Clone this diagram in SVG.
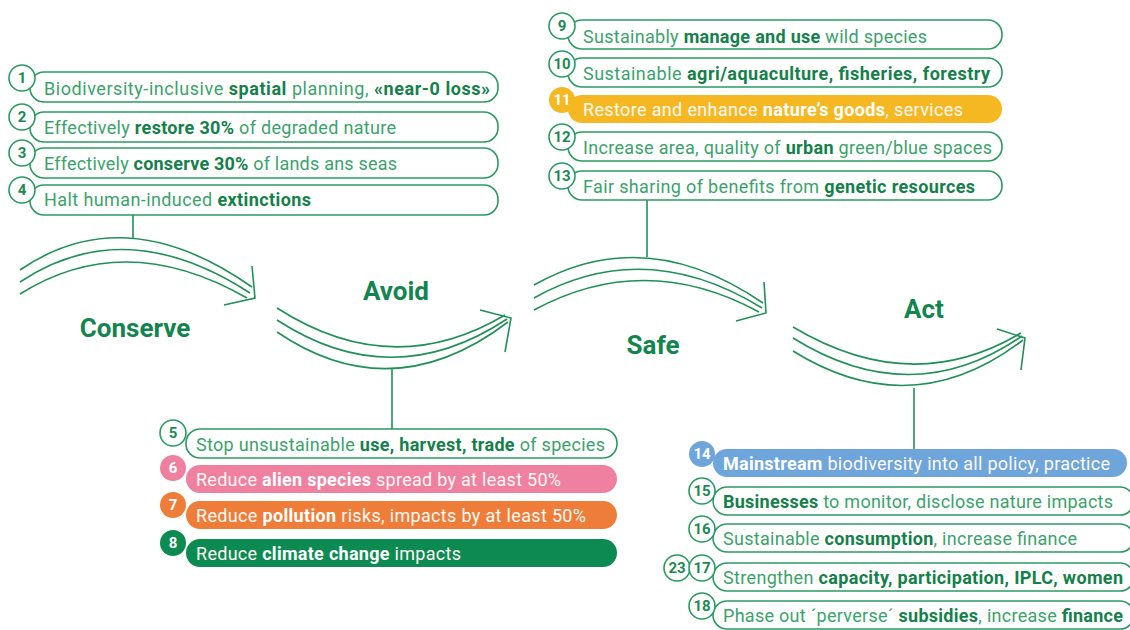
<svg xmlns="http://www.w3.org/2000/svg" width="1130" height="630" viewBox="0 0 1130 630">
<style>
.bg{fill:#ffffff}
.box{fill:#fff;stroke:#2a9a62;stroke-width:1.6}
.nc{fill:#fff;stroke:#2a9a62;stroke-width:1.6}
.nt{font-family:Roboto,"Liberation Sans",sans-serif;font-weight:bold;font-size:15px;fill:#1c8a52;text-anchor:middle}
.nw{fill:#fff}
.t{font-family:Roboto,"Liberation Sans",sans-serif;font-size:18px;fill:#3aa36b}
.b{font-weight:bold;fill:#14804a}
.w{fill:#fff8f4}
.w .b{fill:#ffffff}
.arc{fill:none;stroke:#1f9058;stroke-width:1.6}
.con{fill:none;stroke:#1f9058;stroke-width:1.6}
.stage{font-family:Roboto,"Liberation Sans",sans-serif;font-weight:bold;font-size:26px;fill:#12854e;text-anchor:middle}
.pink{fill:#ef80a0}
.orange{fill:#ee7d39}
.dgreen{fill:#0b8a52}
.yellow{fill:#f6b822}
.blue{fill:#6ea6dc}
</style>
<rect class="bg" x="0" y="0" width="1130" height="630"/>

<g id="connectors">
<path class="con" d="M133,215 L133,238"/>
<path class="con" d="M392,368 L392,429"/>
<path class="con" d="M647,200 L647,257"/>
<path class="con" d="M914,388 L914,449"/>
</g>

<g id="stage-conserve">
<path class="arc" d="M20,270 Q125,198 252,287"/>
<path class="arc" d="M20,282 Q125,212 250,293"/>
<path class="arc" d="M20,294 Q125,228 247,298"/>
<path class="arc" d="M252,266 L255,298 L224,305"/>
<text class="stage" x="135" y="337">Conserve</text>
</g>
<g id="stage-avoid">
<path class="arc" d="M277,308 Q392,382 505,315"/>
<path class="arc" d="M277,320 Q392,395 507,319"/>
<path class="arc" d="M277,332 Q392,410 508,322"/>
<path class="arc" d="M480,310 L511,318 L505,352"/>
<text class="stage" x="396" y="300">Avoid</text>
</g>
<g id="stage-safe">
<path class="arc" d="M534,285 Q645,222 763,303"/>
<path class="arc" d="M534,298 Q645,236 762,308"/>
<path class="arc" d="M534,310 Q645,250 759,312"/>
<path class="arc" d="M764,282 L766,313 L736,321"/>
<text class="stage" x="653" y="354">Safe</text>
</g>
<g id="stage-act">
<path class="arc" d="M793,327 Q912,398 1021,333"/>
<path class="arc" d="M793,338 Q912,412 1022,336"/>
<path class="arc" d="M793,351 Q912,425 1023,340"/>
<path class="arc" d="M997,329 L1025,338 L1021,370"/>
<text class="stage" x="924" y="318">Act</text>
</g>

<!-- Conserve targets -->
<g id="t1"><rect class="box" x="30" y="72" width="468" height="30" rx="14"/><circle class="nc" cx="22" cy="78" r="13"/><text class="nt" x="22" y="83">1</text>
<text class="t" x="44" y="95" textLength="446">Biodiversity-inclusive <tspan class="b">spatial</tspan> planning, <tspan class="b">«near-0 loss»</tspan></text></g>
<g id="t2"><rect class="box" x="30" y="112" width="468" height="30" rx="14"/><circle class="nc" cx="22" cy="117" r="13"/><text class="nt" x="22" y="122">2</text>
<text class="t" x="44" y="134" textLength="352">Effectively <tspan class="b">restore 30%</tspan> of degraded nature</text></g>
<g id="t3"><rect class="box" x="30" y="148" width="468" height="30" rx="14"/><circle class="nc" cx="22" cy="153" r="13"/><text class="nt" x="22" y="158">3</text>
<text class="t" x="44" y="170" textLength="353">Effectively <tspan class="b">conserve 30%</tspan> of lands ans seas</text></g>
<g id="t4"><rect class="box" x="30" y="185" width="468" height="30" rx="14"/><circle class="nc" cx="22" cy="190" r="13"/><text class="nt" x="22" y="195">4</text>
<text class="t" x="44" y="206" textLength="267">Halt human-induced <tspan class="b">extinctions</tspan></text></g>

<!-- Avoid targets -->
<g id="t5"><rect class="box" x="186" y="429" width="431" height="29" rx="14"/><circle class="nc" cx="173" cy="433" r="13"/><text class="nt" x="173" y="438">5</text>
<text class="t" x="196" y="451" textLength="409">Stop unsustainable <tspan class="b">use, harvest, trade</tspan> of species</text></g>
<g id="t6"><rect class="pink" x="186" y="465" width="431" height="28" rx="14"/><circle class="pink" cx="173" cy="468" r="13"/><text class="nt nw" x="173" y="473">6</text>
<text class="t w" x="196" y="486" textLength="365">Reduce <tspan class="b">alien species</tspan> spread by at least 50%</text></g>
<g id="t7"><rect class="orange" x="186" y="501" width="431" height="28" rx="14"/><circle class="orange" cx="173" cy="505" r="13"/><text class="nt nw" x="173" y="510">7</text>
<text class="t w" x="196" y="522" textLength="390">Reduce <tspan class="b">pollution</tspan> risks, impacts by at least 50%</text></g>
<g id="t8"><rect class="dgreen" x="186" y="539" width="431" height="28" rx="14"/><circle class="dgreen" cx="173" cy="543" r="13"/><text class="nt nw" x="173" y="548">8</text>
<text class="t w" x="196" y="560" textLength="265">Reduce <tspan class="b">climate change</tspan> impacts</text></g>

<!-- Safe targets -->
<g id="t9"><rect class="box" x="568" y="20" width="434" height="29" rx="14"/><circle class="nc" cx="562" cy="26" r="13"/><text class="nt" x="562" y="31">9</text>
<text class="t" x="583" y="43" textLength="344">Sustainably <tspan class="b">manage and use</tspan> wild species</text></g>
<g id="t10"><rect class="box" x="568" y="58" width="434" height="29" rx="14"/><circle class="nc" cx="562" cy="64" r="13"/><text class="nt" x="562" y="69">10</text>
<text class="t" x="583" y="80" textLength="407">Sustainable <tspan class="b">agri/aquaculture, fisheries, forestry</tspan></text></g>
<g id="t11"><rect class="yellow" x="568" y="95" width="434" height="28" rx="14"/><circle class="yellow" cx="562" cy="100" r="13"/><text class="nt nw" x="562" y="105">11</text>
<text class="t w" x="583" y="116" textLength="380">Restore and enhance <tspan class="b">nature’s goods</tspan>, services</text></g>
<g id="t12"><rect class="box" x="568" y="132" width="434" height="29" rx="14"/><circle class="nc" cx="562" cy="137" r="13"/><text class="nt" x="562" y="142">12</text>
<text class="t" x="583" y="154" textLength="409">Increase area, quality of <tspan class="b">urban</tspan> green/blue spaces</text></g>
<g id="t13"><rect class="box" x="568" y="171" width="434" height="29" rx="14"/><circle class="nc" cx="562" cy="176" r="13"/><text class="nt" x="562" y="181">13</text>
<text class="t" x="583" y="193" textLength="392">Fair sharing of benefits from <tspan class="b">genetic resources</tspan></text></g>

<!-- Act targets -->
<g id="t14"><rect class="blue" x="713" y="449" width="414" height="28" rx="14"/><circle class="blue" cx="702" cy="454" r="13"/><text class="nt nw" x="702" y="459">14</text>
<text class="t w" x="723" y="470" textLength="387"><tspan class="b">Mainstream</tspan> biodiversity into all policy, practice</text></g>
<g id="t15"><rect class="box" x="713" y="487" width="421" height="28" rx="14"/><circle class="nc" cx="702" cy="491" r="13"/><text class="nt" x="702" y="496">15</text>
<text class="t" x="723" y="508" textLength="390"><tspan class="b">Businesses</tspan> to monitor, disclose nature impacts</text></g>
<g id="t16"><rect class="box" x="713" y="524" width="421" height="28" rx="14"/><circle class="nc" cx="702" cy="529" r="13"/><text class="nt" x="702" y="534">16</text>
<text class="t" x="723" y="545" textLength="354">Sustainable <tspan class="b">consumption</tspan>, increase finance</text></g>
<g id="t17"><rect class="box" x="713" y="563" width="421" height="28" rx="14"/><circle class="nc" cx="677" cy="568" r="13"/><text class="nt" x="677" y="573">23</text><circle class="nc" cx="702" cy="568" r="13"/><text class="nt" x="702" y="573">17</text>
<text class="t" x="723" y="584" textLength="400">Strengthen <tspan class="b">capacity, participation, IPLC, women</tspan></text></g>
<g id="t18"><rect class="box" x="713" y="601" width="421" height="28" rx="14"/><circle class="nc" cx="702" cy="606" r="13"/><text class="nt" x="702" y="611">18</text>
<text class="t" x="723" y="622" textLength="400">Phase out ´perverse´ <tspan class="b">subsidies</tspan>, increase <tspan class="b">finance</tspan></text></g>
</svg>
